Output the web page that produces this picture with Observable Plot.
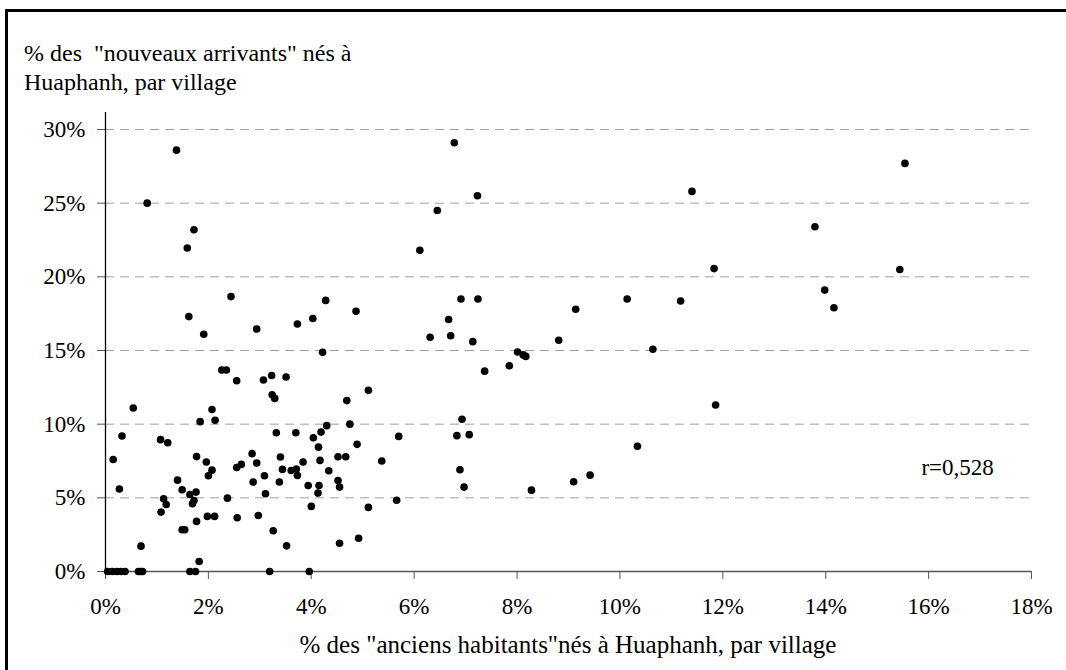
<!DOCTYPE html>
<html>
<head>
<meta charset="utf-8">
<script src="https://cdn.jsdelivr.net/npm/d3@7"></script>
<script src="https://cdn.jsdelivr.net/npm/@observablehq/plot@0.6"></script>
<style>
  html, body { margin: 0; padding: 0; background: #fff; }
  #wrap { position: relative; width: 1066px; height: 670px; overflow: hidden; background: #fff; font-family: "Liberation Serif", serif; color: #000; }
  #frame { position: absolute; left: 5px; top: 9px; width: 1200px; height: 800px; border-left: 3px solid #000; border-top: 3px solid #000; }
  #title { position: absolute; left: 24px; top: 39px; font-size: 24px; line-height: 29px; white-space: pre; }
  #xlabel { position: absolute; left: 105px; width: 926px; top: 631px; text-align: center; font-size: 25px; white-space: pre; }
  #chart { position: absolute; left: 0; top: 0; }
</style>
</head>
<body>
<div id="wrap">
  <div id="chart"></div>
  <div id="frame"></div>
  <div id="title"></div>
  <div id="xlabel"></div>
</div>
<script>
// ---- Data (percent values) ----
const anciens = [
  1.38, 0.81, 1.72, 1.59, 2.44, 1.62, 1.91, 2.94, 3.73, 4.03, 4.28, 4.22, 2.26, 2.35, 2.55, 3.07, 3.23, 3.51,
  6.78, 7.23, 6.45, 6.11, 4.87, 6.91, 7.24, 10.14, 9.14, 6.67, 6.31, 6.71, 7.14, 8.81, 8.01, 8.12, 8.17, 7.85, 7.37,
  15.54, 11.40, 13.79, 11.83, 15.44, 11.18, 13.98, 14.16, 10.64, 11.86, 10.34,
  0.54, 0.32, 0.15, 0.27, 1.07, 1.21, 1.40, 1.49, 1.13, 1.18, 1.08, 0.69, 1.64, 1.76, 1.72, 1.69, 1.77, 1.49, 1.54, 1.82,
  1.77, 1.96, 2.07, 2.00, 1.84, 2.07, 2.13, 1.98, 2.12, 2.37, 2.55, 2.64, 2.56, 2.85, 2.94, 2.87, 3.09, 3.11, 2.97, 3.26,
  3.19, 3.24, 3.29, 3.32, 3.40, 3.44, 3.38, 3.52, 3.70, 3.61, 3.71, 3.73, 3.84, 3.94, 4.00, 4.04, 4.14, 4.19, 4.30, 4.17,
  4.15, 4.13, 4.34, 3.96, 4.52, 4.67, 4.52, 4.55, 4.55, 4.69, 4.75,
  0.04, 0.13, 0.22, 0.30, 0.38, 0.64, 0.68, 0.72, 1.64, 1.75,
  5.11, 5.70, 4.89, 5.37, 5.11, 5.66, 4.92, 6.93, 6.83, 7.07, 6.89, 6.97, 8.28, 9.10, 9.42
];
const nouveaux = [
  28.6, 25.0, 23.2, 21.96, 18.66, 17.3, 16.1, 16.46, 16.8, 17.17, 18.4, 14.88, 13.68, 13.68, 12.95, 13.0, 13.3, 13.2,
  29.1, 25.5, 24.5, 21.8, 17.66, 18.5, 18.5, 18.5, 17.8, 17.1, 15.9, 16.0, 15.6, 15.7, 14.9, 14.7, 14.6, 13.97, 13.6,
  27.7, 25.8, 23.4, 20.56, 20.5, 18.36, 19.1, 17.9, 15.08, 11.3, 8.5,
  11.1, 9.2, 7.6, 5.6, 8.95, 8.74, 6.2, 5.55, 4.94, 4.55, 4.03, 1.72, 5.23, 5.39, 4.82, 4.6, 3.4, 2.83, 2.83, 0.68,
  7.8, 7.43, 6.88, 6.5, 10.17, 11.0, 10.26, 3.74, 3.74, 4.98, 7.06, 7.27, 3.65, 8.0, 7.36, 6.07, 6.5, 5.28, 3.8, 2.77,
  0, 12.0, 11.75, 9.42, 7.77, 6.93, 6.07, 1.74, 9.42, 6.86, 6.95, 6.52, 7.43, 5.84, 4.42, 9.08, 8.44, 9.46, 9.9, 7.54,
  5.84, 5.32, 6.84, 0, 7.79, 7.79, 6.18, 5.73, 1.92, 11.6, 10.0,
  0, 0, 0, 0, 0, 0, 0, 0, 0, 0,
  12.3, 9.17, 8.63, 7.5, 4.35, 4.84, 2.26, 10.33, 9.22, 9.29, 6.91, 5.73, 5.52, 6.09, 6.54
];
const xTicks = [0, 0.02, 0.04, 0.06, 0.08, 0.10, 0.12, 0.14, 0.16, 0.18];
const yTicks = [0, 0.05, 0.10, 0.15, 0.20, 0.25, 0.30];
const titleLines = ["% des  \"nouveaux arrivants\" nés à", "Huaphanh, par village"];
const xLabel = "% des \"anciens habitants\"nés à Huaphanh, par village";
const corrLabel = ["r=0,528"];
const corrAt = {x: 0.1586, y: 0.0706};

const points = anciens.map((a, i) => ({x: a / 100, y: nouveaux[i] / 100}));

document.getElementById("title").textContent = titleLines.join("\n");
document.getElementById("xlabel").textContent = xLabel;

const pct = d3.format(".0%");
const chart = Plot.plot({
  width: 1066,
  height: 670,
  marginLeft: 105,
  marginRight: 35,
  marginTop: 112,
  marginBottom: 99,
  style: {fontFamily: "'Liberation Serif', serif", fontSize: "23px", color: "#000", background: "transparent", overflow: "visible"},
  x: {domain: [0, 0.18]},
  y: {domain: [0, 0.30 * 459 / 442]},
  marks: [
    Plot.ruleY(yTicks.filter(d => d > 0), {stroke: "#a0a0a0", strokeWidth: 1, strokeDasharray: "9,6"}),
    Plot.axisY(yTicks, {tickFormat: pct, tickSize: 8, tickPadding: 12, stroke: "#555", fill: "#000", label: null, fontSize: 23}),
    Plot.axisX(xTicks, {tickFormat: pct, tickSize: 8, tickPadding: 18, stroke: "#555", fill: "#000", label: null, fontSize: 23}),
    Plot.ruleY([0], {stroke: "#555", strokeWidth: 1.3}),
    Plot.ruleX([0], {stroke: "#000", strokeWidth: 1.3}),
    Plot.dot(points, {x: "x", y: "y", r: 3.8, fill: "#000", stroke: "none"}),
    Plot.text(corrLabel, {x: () => corrAt.x, y: () => corrAt.y, text: d => d, textAnchor: "start", fontSize: 23, fill: "#000"})
  ]
});
document.getElementById("chart").appendChild(chart);
</script>
</body>
</html>
